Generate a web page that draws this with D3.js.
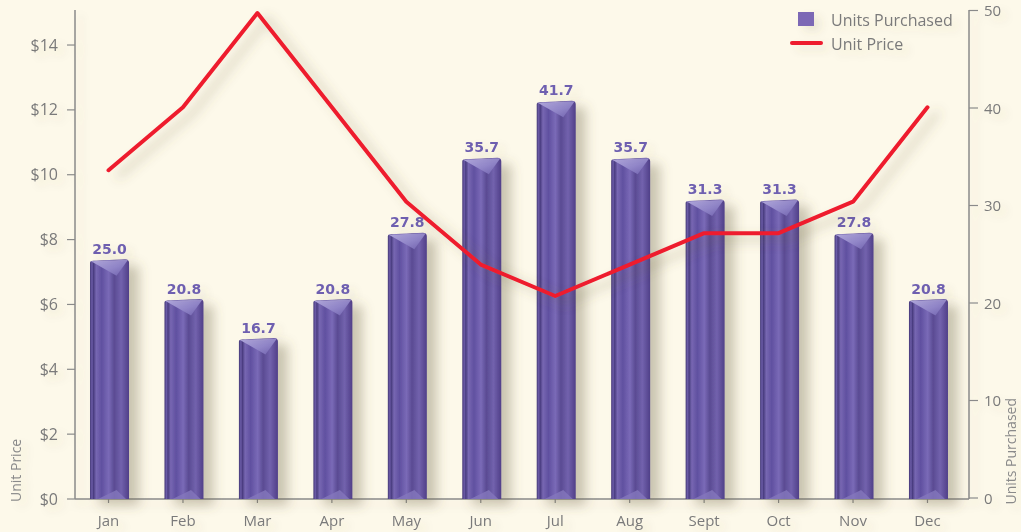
<!DOCTYPE html>
<html>
<head>
<meta charset="utf-8">
<script src="https://cdn.jsdelivr.net/npm/d3@7"></script>
<style>
  html, body { margin: 0; padding: 0; background: #fdf9ea; }
  svg { display: block; font-family: "Open Sans", "DejaVu Sans", sans-serif; }
</style>
</head>
<body>
<svg id="chart" width="1021" height="532"></svg>
<script>
const months = ["Jan","Feb","Mar","Apr","May","Jun","Jul","Aug","Sept","Oct","Nov","Dec"];
const unitsPurchased = [25.0, 20.8, 16.7, 20.8, 27.8, 35.7, 41.7, 35.7, 31.3, 31.3, 27.8, 20.8];
const unitPrice = [10, 12, 15, 12, 9, 7, 6, 7, 8, 8, 9, 12];
const priceTicks = [0, 2, 4, 6, 8, 10, 12, 14];
const unitTicks = [0, 10, 20, 30, 40, 50];
const legendLabels = ["Units Purchased", "Unit Price"];

(function () {
const svg = d3.select("#chart");
const W = 1021, H = 532;
svg.append("rect").attr("width", W).attr("height", H).attr("fill", "#fdf9ea");

const defs = svg.append("defs");
const sh = defs.append("filter").attr("id", "shadow")
  .attr("x", "-30%").attr("y", "-30%").attr("width", "190%").attr("height", "160%");
sh.append("feGaussianBlur").attr("in", "SourceAlpha").attr("stdDeviation", 6).attr("result", "b");
sh.append("feOffset").attr("in", "b").attr("dx", 10).attr("dy", 6).attr("result", "o");
sh.append("feFlood").attr("flood-color", "#6b6245").attr("flood-opacity", 0.35).attr("result", "c");
sh.append("feComposite").attr("in", "c").attr("in2", "o").attr("operator", "in").attr("result", "s");
const m = sh.append("feMerge");
m.append("feMergeNode").attr("in", "s");
m.append("feMergeNode").attr("in", "SourceGraphic");

const tsh = defs.append("filter").attr("id", "tshadow")
  .attr("x", "-30%").attr("y", "-50%").attr("width", "170%").attr("height", "220%");
tsh.append("feGaussianBlur").attr("in", "SourceAlpha").attr("stdDeviation", 4).attr("result", "b");
tsh.append("feOffset").attr("in", "b").attr("dx", 6).attr("dy", 5).attr("result", "o");
tsh.append("feFlood").attr("flood-color", "#6b6245").attr("flood-opacity", 0.12).attr("result", "c");
tsh.append("feComposite").attr("in", "c").attr("in2", "o").attr("operator", "in").attr("result", "s");
const m2 = tsh.append("feMerge");
m2.append("feMergeNode").attr("in", "s");
m2.append("feMergeNode").attr("in", "SourceGraphic");

const bodyGrad = defs.append("linearGradient").attr("id", "barBody")
  .attr("x1", "0").attr("x2", "1").attr("y1", "0").attr("y2", "0");
[["0%", "#433775"], ["5%", "#6c5ca8"], ["9%", "#4a3d80"], ["16%", "#7767b2"],
 ["30%", "#6050a0"], ["48%", "#7a6ab7"], ["62%", "#5a4b93"], ["80%", "#7262ad"], ["100%", "#503f88"]]
  .forEach(([o, c]) => bodyGrad.append("stop").attr("offset", o).attr("stop-color", c));
const capGrad = defs.append("linearGradient").attr("id", "barCap")
  .attr("x1", "0").attr("x2", "1").attr("y1", "0").attr("y2", "1");
[["0%", "#b2a9dc"], ["55%", "#9186c8"], ["100%", "#6f60ad"]]
  .forEach(([o, c]) => capGrad.append("stop").attr("offset", o).attr("stop-color", c));

// scales
const x = d3.scaleBand().domain(months).range([71.3, 964.7]).padding(0);
const yUnitsAxis = d3.scaleLinear().domain([0, 50]).range([498, 10.5]);
const yUnitsBar = d3.scaleLinear().domain([0, 50]).range([498, 23.5]);   // series plane (3D depth)
const yPriceAxis = d3.scaleLinear().domain([0, 15]).range([499, 12.6]);
const yPriceLine = d3.scaleLinear().domain([0, 15]).range([484.7, 13]);  // series plane (3D depth)

const axisColor = "#8a8a8a", textColor = "#7a7a7a";
const pLeft = 75, pRight = 969, pTop = 10, pBase = 499;

// axes
const axes = svg.append("g").attr("filter", "url(#tshadow)");
axes.append("line").attr("x1", pLeft).attr("x2", pLeft).attr("y1", pTop).attr("y2", pBase)
  .attr("stroke", axisColor).attr("stroke-width", 1.5);
axes.append("line").attr("x1", pRight).attr("x2", pRight).attr("y1", pTop).attr("y2", pBase)
  .attr("stroke", axisColor).attr("stroke-width", 1.5);
axes.append("line").attr("x1", pLeft).attr("x2", pRight).attr("y1", pBase).attr("y2", pBase)
  .attr("stroke", axisColor).attr("stroke-width", 1.5);

const lt = axes.selectAll(".lt").data(priceTicks).join("g")
  .attr("transform", d => `translate(0,${yPriceAxis(d)})`);
lt.append("line").attr("x1", 67).attr("x2", pLeft).attr("stroke", axisColor).attr("stroke-width", 1.2);
lt.append("text").attr("x", 58).attr("dy", "0.35em").attr("text-anchor", "end")
  .attr("fill", textColor).attr("font-size", 16).text(d => "$" + d);

const rt = axes.selectAll(".rt").data(unitTicks).join("g")
  .attr("transform", d => `translate(0,${yUnitsAxis(d)})`);
rt.append("line").attr("x1", pRight).attr("x2", pRight + 9).attr("stroke", axisColor).attr("stroke-width", 1.2);
rt.append("text").attr("x", 984).attr("dy", "0.38em").attr("text-anchor", "start")
  .attr("fill", textColor).attr("font-size", 15).text(d => d);

const xt = axes.selectAll(".xt").data(months).join("g")
  .attr("transform", d => `translate(${x(d) + x.bandwidth() / 2},0)`);
xt.append("line").attr("y1", pBase).attr("y2", pBase + 4).attr("stroke", axisColor).attr("stroke-width", 1.2);
xt.append("text").attr("y", 521).attr("dy", "0.35em").attr("text-anchor", "middle")
  .attr("fill", textColor).attr("font-size", 15).text(d => d);

axes.append("text").attr("transform", "translate(21,502) rotate(-90)")
  .attr("text-anchor", "start").attr("fill", "#8a8a8a").attr("font-size", 14).text("Unit Price");
axes.append("text").attr("transform", "translate(1016,398) rotate(-90)")
  .attr("text-anchor", "end").attr("fill", "#8a8a8a").attr("font-size", 14).text("Units Purchased");

// bars
const bw = 39;
const bars = svg.append("g").selectAll("g").data(months.map((mo, i) => ({ mo, v: unitsPurchased[i] })))
  .join("g").attr("filter", "url(#shadow)");
bars.each(function (d) {
  const g = d3.select(this);
  const c = x(d.mo) + x.bandwidth() / 2 + 1;
  const L = c - bw / 2, R = c + bw / 2, t = yUnitsBar(d.v);
  g.append("path")
    .attr("d", `M${L},${pBase}L${L},${t + 2}Q${L},${t} ${L + 3},${t}L${R - 4},${t - 1.5}Q${R},${t - 1.5} ${R},${t + 2}L${R},${pBase}Z`)
    .attr("fill", "url(#barBody)");
  g.append("path")
    .attr("d", `M${L + 1},${t + 0.5}L${R - 1},${t - 1}L${L + 0.68 * bw},${t + 15}Z`)
    .attr("fill", "url(#barCap)");
  g.append("path")
    .attr("d", `M${L + 8},${pBase}L${L + 0.68 * bw},${pBase - 9}L${R - 3},${pBase}Z`)
    .attr("fill", "#8577bd").attr("opacity", 0.8);
});

// value labels
svg.append("g").selectAll("text").data(months.map((mo, i) => ({ mo, v: unitsPurchased[i] })))
  .join("text")
  .attr("x", d => x(d.mo) + x.bandwidth() / 2 + 1)
  .attr("y", d => yUnitsBar(d.v) - 7)
  .attr("text-anchor", "middle").attr("font-size", 14).attr("font-weight", "bold")
  .attr("font-family", "'DejaVu Sans', sans-serif")
  .attr("fill", "#6e5fb0").attr("filter", "url(#tshadow)")
  .text(d => d.v.toFixed(1));

// line
const line = d3.line()
  .x((d, i) => x(months[i]) + x.bandwidth() / 2)
  .y(d => yPriceLine(d));
svg.append("path").datum(unitPrice).attr("d", line)
  .attr("fill", "none").attr("stroke", "#ee1b2d").attr("stroke-width", 4)
  .attr("stroke-linejoin", "round").attr("stroke-linecap", "round")
  .attr("filter", "url(#shadow)");

// legend
const lg = svg.append("g").attr("filter", "url(#tshadow)");
lg.append("rect").attr("x", 798).attr("y", 12).attr("width", 16).attr("height", 14).attr("fill", "#7b68b5");
lg.append("line").attr("x1", 792).attr("x2", 821).attr("y1", 43).attr("y2", 43)
  .attr("stroke", "#ee1b2d").attr("stroke-width", 4).attr("stroke-linecap", "round");
lg.selectAll("text").data(legendLabels).join("text")
  .attr("x", 831).attr("y", (d, i) => 20 + i * 24).attr("dy", "0.35em")
  .attr("fill", textColor).attr("font-size", 16).text(d => d);
})();
</script>
</body>
</html>
